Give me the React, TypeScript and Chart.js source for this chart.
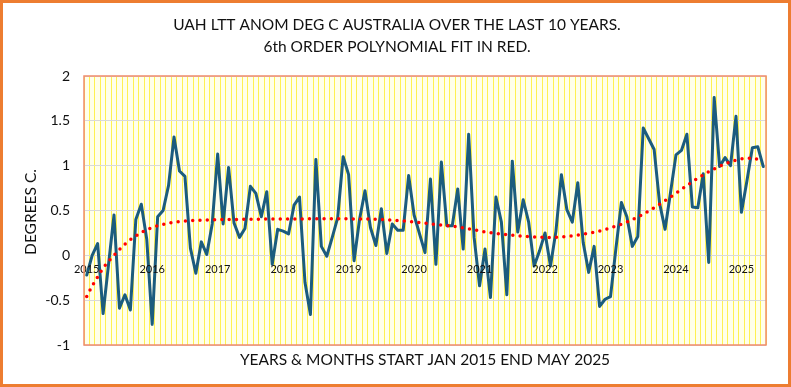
import React, { useEffect, useRef } from 'react';
import { Chart, registerables } from 'chart.js';

Chart.register(...registerables);

// ---- DATA ----
const START_YEAR = 2015;
const END_YEAR = 2025;
const END_MONTH = 5; // May 2025

// Monthly UAH LT anomaly, Australia (deg C), Jan 2015 .. May 2025
const ANOMALY: number[] = [
  // 2015
  -0.22, 0.0, 0.13, -0.65, -0.1, 0.45, -0.59, -0.44, -0.61, 0.4, 0.57, 0.18,
  // 2016
  -0.77, 0.43, 0.5, 0.78, 1.32, 0.94, 0.88, 0.08, -0.2, 0.15, 0.01, 0.35,
  // 2017
  1.13, 0.35, 0.98, 0.36, 0.2, 0.3, 0.77, 0.69, 0.43, 0.71, -0.1, 0.29,
  // 2018
  0.27, 0.24, 0.56, 0.65, -0.3, -0.66, 1.07, 0.1, -0.01, 0.2, 0.42, 1.1,
  // 2019
  0.9, -0.06, 0.4, 0.72, 0.31, 0.11, 0.52, 0.02, 0.35, 0.28, 0.28, 0.89,
  // 2020
  0.45, 0.24, 0.03, 0.85, -0.1, 1.04, 0.33, 0.33, 0.74, 0.07, 1.35, 0.2,
  // 2021
  -0.34, 0.07, -0.47, 0.65, 0.37, -0.44, 1.05, 0.26, 0.62, 0.37, -0.12, 0.05,
  // 2022
  0.25, -0.12, 0.27, 0.9, 0.51, 0.37, 0.81, 0.14, -0.19, 0.1, -0.57, -0.49,
  // 2023
  -0.46, 0.08, 0.59, 0.43, 0.1, 0.21, 1.42, 1.3, 1.18, 0.58, 0.29, 0.7,
  // 2024
  1.12, 1.17, 1.35, 0.54, 0.53, 0.91, -0.08, 1.76, 0.99, 1.09, 1.0, 1.55,
  // 2025
  0.48, 0.83, 1.2, 1.21, 0.99,
];

// 6th order polynomial fit (red dotted) at each month
const POLY_FIT: number[] = [
  // 2015
  -0.46, -0.34, -0.24, -0.14, -0.065, 0.0, 0.065, 0.125, 0.175, 0.215, 0.255, 0.285,
  // 2016
  0.31, 0.33, 0.345, 0.36, 0.37, 0.376, 0.382, 0.386, 0.39, 0.392, 0.394, 0.396,
  // 2017
  0.398, 0.399, 0.4, 0.4, 0.401, 0.402, 0.403, 0.403, 0.404, 0.404, 0.405, 0.405,
  // 2018
  0.405, 0.406, 0.406, 0.406, 0.407, 0.407, 0.407, 0.407, 0.407, 0.407, 0.407, 0.407,
  // 2019
  0.407, 0.406, 0.406, 0.405, 0.404, 0.402, 0.4, 0.397, 0.393, 0.389, 0.385, 0.38,
  // 2020
  0.372, 0.365, 0.358, 0.351, 0.345, 0.338, 0.332, 0.325, 0.316, 0.306, 0.295, 0.284,
  // 2021
  0.272, 0.262, 0.253, 0.245, 0.238, 0.231, 0.224, 0.218, 0.213, 0.208, 0.204, 0.201,
  // 2022
  0.2, 0.2, 0.202, 0.206, 0.211, 0.218, 0.226, 0.235, 0.246, 0.258, 0.272, 0.288,
  // 2023
  0.306, 0.326, 0.348, 0.372, 0.398, 0.427, 0.46, 0.495, 0.532, 0.57, 0.61, 0.65,
  // 2024
  0.692, 0.735, 0.778, 0.82, 0.86, 0.897, 0.932, 0.964, 0.993, 1.02, 1.043, 1.062,
  // 2025
  1.076, 1.083, 1.082, 1.072, 1.05,
];

const Y_TICKS: number[] = [-1, -0.5, 0, 0.5, 1, 1.5, 2];

const TITLE_LINES: string[] = [
  'UAH LTT ANOM DEG C AUSTRALIA OVER THE LAST 10 YEARS.',
  '6th ORDER POLYNOMIAL FIT IN RED.',
];
const Y_TITLE = 'DEGREES C.';
const X_TITLE = 'YEARS & MONTHS START JAN 2015 END MAY 2025';

// month categories "YYYY-MM"
const CATEGORIES: string[] = [];
for (let y = START_YEAR; y <= END_YEAR; y++) {
  for (let m = 1; m <= 12; m++) {
    if (y === END_YEAR && m > END_MONTH) break;
    CATEGORIES.push(`${y}-${String(m).padStart(2, '0')}`);
  }
}

const FONT = 'Lato';
const TEXT = '#111111';

const decorPlugin = {
  id: 'decor',
  beforeDraw(chart: any) {
    const { ctx, width, height, chartArea: a } = chart;
    ctx.save();
    ctx.fillStyle = '#ffffff';
    ctx.fillRect(0, 0, width, height);
    ctx.fillStyle = '#FFFFEA';
    ctx.fillRect(a.left, a.top, a.right - a.left, a.bottom - a.top);
    ctx.restore();
  },
  afterDraw(chart: any) {
    const { ctx, width, height, chartArea: a } = chart;
    ctx.save();
    // plot area border
    ctx.strokeStyle = '#F08C6C';
    ctx.lineWidth = 1.5;
    ctx.strokeRect(a.left, a.top, a.right - a.left, a.bottom - a.top);
    // outer border
    ctx.strokeStyle = '#ED7D31';
    ctx.lineWidth = 3;
    ctx.strokeRect(1.5, 1.5, width - 3, height - 3);

    ctx.fillStyle = TEXT;
    ctx.textAlign = 'center';
    ctx.textBaseline = 'alphabetic';
    ctx.font = `15.5px ${FONT}`;
    ctx.fillText(TITLE_LINES[0], 397, 30);
    ctx.fillText(TITLE_LINES[1], 397, 52);

    // x axis title
    ctx.fillText(X_TITLE, (a.left + a.right) / 2, 365);

    // y axis title
    ctx.save();
    ctx.translate(36, 212);
    ctx.rotate(-Math.PI / 2);
    ctx.fillText(Y_TITLE, 0, 0);
    ctx.restore();

    ctx.restore();
  },
};

export default function App() {
  const ref = useRef<HTMLCanvasElement | null>(null);

  useEffect(() => {
    if (!ref.current) return;
    const chart = new Chart(ref.current, {
      type: 'line',
      data: {
        labels: CATEGORIES,
        datasets: [
          {
            label: 'Poly. fit',
            data: POLY_FIT,
            borderColor: '#FF0000',
            borderWidth: 3.5,
            borderDash: [0, 7.3],
            borderCapStyle: 'round',
            pointRadius: 0,
            tension: 0,
            fill: false,
            order: 0,
          },
          {
            label: 'Anomaly',
            data: ANOMALY,
            borderColor: '#1B5C7E',
            borderWidth: 3,
            borderJoinStyle: 'round',
            borderCapStyle: 'round',
            pointRadius: 0,
            tension: 0,
            fill: false,
            order: 1,
          },
        ],
      },
      options: {
        responsive: false,
        animation: false,
        layout: { padding: { left: 0, top: 76, right: 25, bottom: 42 } },
        plugins: {
          legend: { display: false },
          title: { display: false },
          tooltip: { enabled: false },
        },
        scales: {
          x: {
            type: 'category',
            offset: true,
            position: { y: 0 },
            grid: { color: '#FFEF40', lineWidth: 0.9, offset: true, drawTicks: false },
            border: { display: false },
            ticks: {
              autoSkip: false,
              maxRotation: 0,
              minRotation: 0,
              padding: 8,
              color: TEXT,
              font: { family: FONT, size: 11 },
              z: 1,
              callback: function (this: any, value: any) {
                const lab = this.getLabelForValue(value) as string;
                return lab.endsWith('-01') ? lab.slice(0, 4) : '';
              },
            },
          },
          y: {
            min: Y_TICKS[0],
            max: Y_TICKS[Y_TICKS.length - 1],
            afterBuildTicks: (scale: any) => {
              scale.ticks = Y_TICKS.map((v) => ({ value: v }));
            },
            afterFit: (scale: any) => {
              scale.width = 84;
            },
            grid: { color: '#D9D9D9', lineWidth: 1, drawTicks: false },
            border: { display: false },
            ticks: {
              padding: 14,
              color: TEXT,
              font: { family: FONT, size: 14 },
              callback: (v: any) => String(v),
            },
          },
        },
      },
      plugins: [decorPlugin],
    });
    return () => chart.destroy();
  }, []);

  return (
    <div style={{ position: 'absolute', left: 0, top: 0, width: 791, height: 387 }}>
      <canvas ref={ref} width={791} height={387} style={{ width: 791, height: 387, display: 'block' }} />
    </div>
  );
}
